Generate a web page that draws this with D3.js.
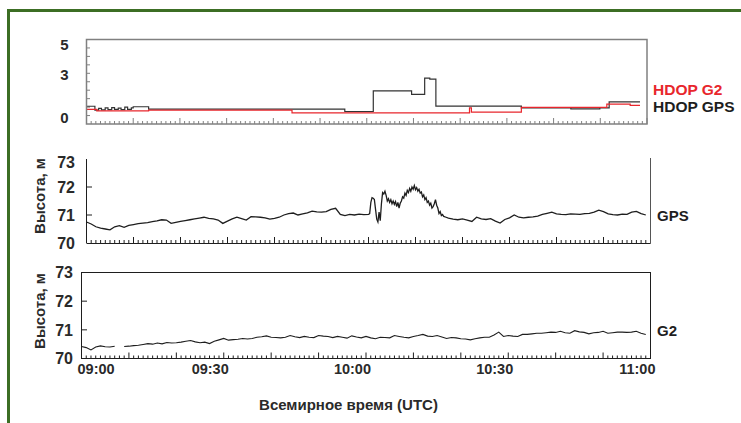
<!DOCTYPE html>
<html><head><meta charset="utf-8">
<script src="https://cdn.jsdelivr.net/npm/d3@7"></script>
<style>
body{margin:0;background:#fff}
svg{display:block}
text{font-family:"Liberation Sans",Arial,sans-serif;font-weight:bold}
</style>
</head><body>
<svg id="c" width="741" height="423"></svg>
<script>
// ---------- data (minutes after 09:00 UTC) ----------
const timeTickMinutes = [0, 30, 60, 90, 120];
const timeTickLabels = ["09:00", "09:30", "10:00", "10:30", "11:00"];
const hdopTicks = [0, 3, 5];
const altTicks = [70, 71, 72, 73];

const hdopGpsT = [0, 1.8, 2.6, 3.2, 4.0, 4.6, 5.4, 6.0, 6.8, 7.4, 8.2, 8.8, 9.6, 10.0, 13.3, 55.3, 61.4, 69.6, 72.4, 73.5, 74.8, 93.1, 103.7, 109.9, 111.9, 118.5];
const hdopGpsV = [1.05, 0.82, 0.92, 0.84, 0.95, 0.85, 0.97, 0.86, 0.94, 0.85, 1.0, 0.87, 0.96, 1.02, 0.88, 0.74, 1.96, 1.75, 2.72, 2.65, 1.06, 0.96, 0.90, 0.96, 1.31, 1.31];

const hdopG2T = [0, 2.2, 13.3, 44, 82, 82.4, 93.1, 111.4, 116.4, 118.5];
const hdopG2V = [0.86, 0.78, 0.82, 0.66, 0.95, 0.70, 0.98, 1.18, 1.10, 1.10];

const gpsT = [0,1,2,3,4,5,6,7,8,9,10,11,12,13,14,15,16,17,18,19,20,21,22,23,24,25,26,27,28,29,30,31,32,33,34,35,36,37,38,39,40,41,42,43,44,45,46,47,48,49,50,51,52,53,54,55,56,57,58,59,60,
  60.25,60.5,60.75,61,61.25,61.5,61.75,62,62.25,62.5,62.75,63,63.25,63.5,63.75,64,64.25,64.5,64.75,65,65.25,65.5,65.75,66,66.25,66.5,66.75,67,67.25,67.5,67.75,68,68.25,68.5,68.75,69,69.25,69.5,69.75,70,70.25,70.5,70.75,71,71.25,71.5,71.75,72,72.25,72.5,72.75,73,73.25,73.5,73.75,74,74.25,74.5,74.75,75,75.25,75.5,75.75,76,76.5,77,
  78,79,80,81,82,83,84,85,86,87,88,89,90,91,92,93,94,95,96,97,98,99,100,101,102,103,104,105,106,107,108,109,110,111,112,113,114,115,116,117,118,119];
const gpsV = [70.75,70.68,70.58,70.53,70.50,70.47,70.58,70.62,70.56,70.63,70.66,70.69,70.71,70.73,70.76,70.79,70.83,70.82,70.70,70.74,70.77,70.80,70.83,70.86,70.89,70.92,70.88,70.86,70.82,70.70,70.78,70.86,70.92,70.87,70.82,70.94,70.93,70.92,70.90,70.85,70.88,70.92,71.00,71.05,71.07,71.00,71.04,71.08,71.14,71.11,71.10,71.12,71.20,71.24,71.02,70.98,71.02,71.00,71.03,71.01,71.02,
  71.05,71.45,71.62,71.60,71.55,71.20,70.85,70.75,71.10,70.80,71.40,71.80,71.75,71.85,71.70,71.50,71.58,71.45,71.55,71.40,71.50,71.38,71.48,71.30,71.45,71.25,71.42,71.50,71.65,71.60,71.78,71.70,71.88,71.80,71.95,71.85,72.00,71.92,72.05,71.90,71.98,71.85,71.92,71.78,71.82,71.65,71.72,71.55,71.62,71.45,71.50,71.35,71.42,71.25,71.30,71.40,71.55,71.35,71.25,71.05,71.12,70.98,71.02,70.95,70.92,70.89,
  70.85,70.83,70.86,70.82,70.77,70.92,70.86,70.84,70.87,70.78,70.71,70.84,70.90,71.00,70.92,70.90,70.92,70.93,70.96,71.02,71.06,71.10,71.04,71.02,71.01,71.04,71.03,71.02,71.05,71.06,71.10,71.17,71.12,71.04,71.01,71.00,71.03,71.02,71.10,71.13,71.05,71.00];

const g2T = d3.range(0, 120);
const g2V = [70.42,70.38,70.30,70.40,70.44,70.41,70.40,70.43,null,70.42,70.43,70.45,70.46,70.49,70.52,70.50,70.54,70.51,70.56,70.54,70.55,70.57,70.60,70.63,70.58,70.55,70.57,70.52,70.60,70.65,
  70.70,70.64,70.66,70.67,70.70,70.68,70.70,70.74,70.76,70.79,70.74,70.73,70.72,70.74,70.80,70.76,70.73,70.77,70.74,70.73,70.80,70.78,70.77,70.73,70.77,70.74,70.71,70.79,70.75,70.72,
  70.77,70.72,70.69,70.74,70.73,70.72,70.80,70.77,70.74,70.72,70.77,70.80,70.84,70.78,70.77,70.80,70.75,70.70,70.73,70.72,70.69,70.68,70.65,70.69,70.72,70.74,70.74,70.82,70.92,70.77,
  70.80,70.78,70.77,70.84,70.84,70.86,70.88,70.88,70.90,70.92,70.91,70.95,70.90,70.88,70.97,70.93,70.91,70.86,70.90,70.91,70.95,70.88,70.90,70.92,70.92,70.91,70.92,70.95,70.88,70.84];

// ---------- drawing ----------
const svg = d3.select("#c");
const RED = "#e8262c", INK = "#1e1e1e", GRAY = "#808080";
svg.append("rect").attr("width", 741).attr("height", 423).attr("fill", "#fff");
// green frame
svg.append("path").attr("d", "M8.5,423V10.5H741").attr("fill", "none").attr("stroke", "#3c6e24").attr("stroke-width", 3);

function timeAxis(g, x, yBot, color) {
  const minor = d3.range(0, 121, 1);
  g.selectAll(null).data(minor).join("line")
    .attr("x1", d => x(d)).attr("x2", d => x(d))
    .attr("y1", yBot).attr("y2", d => yBot - (d % 10 === 0 ? 6 : 3))
    .attr("stroke", color).attr("stroke-width", 1);
}

// ---- Panel A: HDOP ----
const xA = d3.scaleLinear().domain([0, 120]).range([86.5, 647]);
const yA = d3.scaleLinear().domain([0, 5]).range([124, 39.5]);
const yAlab = d3.scaleLinear().domain([0, 5]).range([118, 45]);
const gA = svg.append("g");
timeAxis(gA, xA, 124, GRAY);
gA.selectAll(null).data(d3.range(0.5, 5, 0.5)).join("line")
  .attr("x1", 86.5).attr("x2", 90).attr("y1", d => yA(d)).attr("y2", d => yA(d))
  .attr("stroke", GRAY);
gA.selectAll(null).data(hdopTicks).join("text")
  .attr("x", 64.5).attr("y", d => yAlab(d)).attr("dy", "0.36em")
  .attr("text-anchor", "middle").attr("font-size", 15).attr("fill", "#2a2a2a").text(d => d);
const lineA = d3.line().x(d => xA(d[0])).y(d => yA(d[1])).curve(d3.curveStepAfter);
gA.append("path").datum(hdopGpsT.map((t, i) => [t, hdopGpsV[i]]))
  .attr("d", lineA).attr("fill", "none").attr("stroke", "#333").attr("stroke-width", 1.2);
gA.append("path").datum(hdopG2T.map((t, i) => [t, hdopG2V[i]]))
  .attr("d", lineA).attr("fill", "none").attr("stroke", RED).attr("stroke-width", 1.2);
gA.append("rect").attr("x", 86.5).attr("y", 39.5).attr("width", 647 - 86.5).attr("height", 124 - 39.5)
  .attr("fill", "none").attr("stroke", GRAY).attr("stroke-width", 1.5);
gA.append("text").attr("x", 653).attr("y", 89).attr("dy", "0.36em").attr("font-size", 15.5).attr("fill", RED).text("HDOP G2");
gA.append("text").attr("x", 653).attr("y", 106).attr("dy", "0.36em").attr("font-size", 15.5).attr("fill", INK).text("HDOP GPS");

// ---- Panel B: GPS altitude ----
const xB = d3.scaleLinear().domain([0, 120]).range([86.5, 650.5]);
const yB = d3.scaleLinear().domain([70, 73]).range([243, 159]);
const gB = svg.append("g");
timeAxis(gB, xB, 243, INK);
gB.append("line").attr("x1", 86.5).attr("x2", 86.5).attr("y1", 159).attr("y2", 243).attr("stroke", INK);
gB.append("line").attr("x1", 650.5).attr("x2", 650.5).attr("y1", 158).attr("y2", 243.5).attr("stroke", "#555");
gB.append("line").attr("x1", 86.5).attr("x2", 650.5).attr("y1", 243.5).attr("y2", 243.5).attr("stroke", INK);
gB.selectAll(null).data([71, 72]).join("line")
  .attr("x1", 86.5).attr("x2", 92).attr("y1", d => yB(d)).attr("y2", d => yB(d)).attr("stroke", INK);
gB.selectAll(null).data(altTicks).join("text")
  .attr("x", 75).attr("y", d => yB(d) + (d === 73 ? 3 : 0)).attr("dy", "0.36em")
  .attr("text-anchor", "end").attr("font-size", 16).attr("fill", "#2a2a2a").text(d => d);
const lineB = d3.line().x(d => xB(d[0])).y(d => yB(d[1]));
gB.append("path").datum(gpsT.map((t, i) => [t, gpsV[i]]))
  .attr("d", lineB).attr("fill", "none").attr("stroke", INK).attr("stroke-width", 1.3);
gB.append("text").attr("x", 657).attr("y", 216).attr("dy", "0.36em").attr("font-size", 15).attr("fill", INK).text("GPS");
gB.append("text").attr("transform", "translate(45,196) rotate(-90)").attr("text-anchor", "middle")
  .attr("font-size", 15).attr("fill", "#2a2a2a").text("Высота, м");

// ---- Panel C: G2 altitude ----
const xC = d3.scaleLinear().domain([0, 120]).range([81.5, 650.5]);
const yC = d3.scaleLinear().domain([70, 73]).range([358.5, 272.5]);
const gC = svg.append("g");
timeAxis(gC, xC, 358.5, INK);
gC.selectAll(null).data([71, 72]).join("line")
  .attr("x1", 81.5).attr("x2", 87).attr("y1", d => yC(d)).attr("y2", d => yC(d)).attr("stroke", INK);
gC.append("rect").attr("x", 81.5).attr("y", 272.5).attr("width", 650.5 - 81.5).attr("height", 358.5 - 272.5)
  .attr("fill", "none").attr("stroke", INK).attr("stroke-width", 1);
gC.selectAll(null).data(altTicks).join("text")
  .attr("x", 73).attr("y", d => yC(d)).attr("dy", "0.36em")
  .attr("text-anchor", "end").attr("font-size", 16).attr("fill", "#2a2a2a").text(d => d);
const lineC = d3.line().defined(d => d[1] !== null).x(d => xC(d[0])).y(d => yC(d[1]));
gC.append("path").datum(g2T.map((t, i) => [t, g2V[i]]))
  .attr("d", lineC).attr("fill", "none").attr("stroke", INK).attr("stroke-width", 1.1);
gC.append("text").attr("x", 657).attr("y", 331).attr("dy", "0.36em").attr("font-size", 15).attr("fill", INK).text("G2");
gC.append("text").attr("transform", "translate(45,311) rotate(-90)").attr("text-anchor", "middle")
  .attr("font-size", 15).attr("fill", "#2a2a2a").text("Высота, м");

// x tick labels
gC.selectAll(null).data(timeTickMinutes).join("text")
  .attr("x", (d, i) => i === 0 ? xC(d) - 4 : xC(d) + 5)
  .attr("y", 369).attr("dy", "0.36em")
  .attr("text-anchor", (d, i) => i === 0 ? "start" : "end")
  .attr("font-size", 14.5).attr("fill", "#2a2a2a")
  .text((d, i) => timeTickLabels[i]);
svg.append("text").attr("x", 348.5).attr("y", 405).attr("dy", "0.36em").attr("text-anchor", "middle")
  .attr("font-size", 15).attr("fill", "#2a2a2a").text("Всемирное время (UTC)");
</script>
</body></html>
